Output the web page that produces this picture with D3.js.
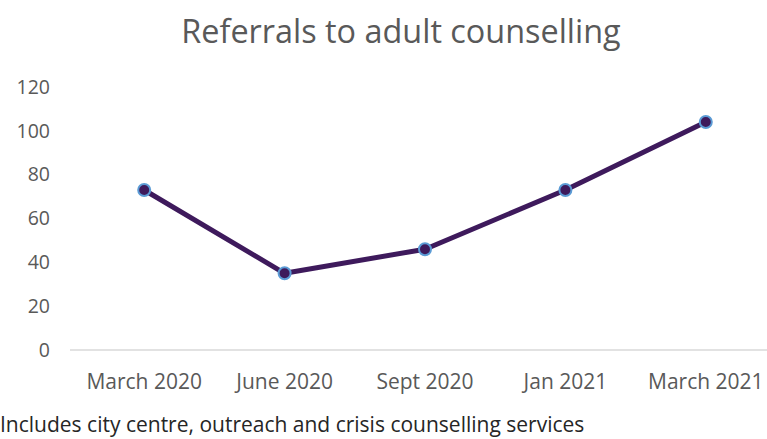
<!DOCTYPE html>
<html>
<head>
<meta charset="utf-8">
<script src="https://cdn.jsdelivr.net/npm/d3@7"></script>
<style>
  body { margin: 0; background: #fff; }
  svg text { font-family: "Open Sans", sans-serif; }
</style>
</head>
<body>
<div id="chart"></div>
<script>
const categories = ["March 2020", "June 2020", "Sept 2020", "Jan 2021", "March 2021"];
const referrals = [73, 35, 46, 73, 104];
const yTicks = [0, 20, 40, 60, 80, 100, 120];
const chartTitle = "Referrals to adult counselling";
const footnote = "Includes city centre, outreach and crisis counselling services";

const width = 767, height = 439;

const svg = d3.select("#chart").append("svg")
    .attr("width", width)
    .attr("height", height);

// Scales
const xScale = d3.scaleBand()
    .domain(categories)
    .range([74, 776]);

const yScale = d3.scaleLinear()
    .domain([0, 120])
    .range([350, 87]);

// Title
svg.append("text")
    .attr("x", 401)
    .attr("y", 43)
    .attr("text-anchor", "middle")
    .style("font-size", "32.4px")
    .attr("fill", "#595959")
    .text(chartTitle);

// Y axis labels (no axis line)
const yAxis = d3.axisLeft(yScale).tickValues(yTicks).tickSize(0).tickPadding(0);
const yG = svg.append("g")
    .attr("transform", "translate(50,0)")
    .call(yAxis)
    .attr("font-family", null)
    .attr("font-size", null);
yG.select(".domain").remove();
yG.selectAll("text")
    .style("font-size", "19.5px")
    .attr("fill", "#595959");

// X axis line + labels
svg.append("line")
    .attr("x1", 70)
    .attr("x2", width)
    .attr("y1", yScale(0))
    .attr("y2", yScale(0))
    .attr("stroke", "#d9d9d9")
    .attr("stroke-width", 1.5);

const xAxis = d3.axisBottom(xScale).tickSize(0).tickPadding(0);
const xG = svg.append("g")
    .attr("transform", `translate(0,${yScale(0) + 39})`)
    .call(xAxis)
    .attr("font-family", null)
    .attr("font-size", null);
xG.select(".domain").remove();
xG.selectAll("text")
    .style("font-size", "21px")
    .attr("fill", "#595959")
    .attr("dy", 0);

// Line
const line = d3.line()
    .x((d, i) => xScale(categories[i]) + xScale.bandwidth() / 2)
    .y(d => yScale(d));

svg.append("path")
    .datum(referrals)
    .attr("d", line)
    .attr("fill", "none")
    .attr("stroke", "#3e1a5c")
    .attr("stroke-width", 5)
    .attr("stroke-linejoin", "round");

// Markers
svg.selectAll("circle.pt")
    .data(referrals)
    .enter().append("circle")
    .attr("class", "pt")
    .attr("cx", (d, i) => xScale(categories[i]) + xScale.bandwidth() / 2)
    .attr("cy", d => yScale(d))
    .attr("r", 6)
    .attr("fill", "#3e1a5c")
    .attr("stroke", "#5b9bd5")
    .attr("stroke-width", 2);

// Footnote
svg.append("text")
    .attr("x", 0)
    .attr("y", 432)
    .style("font-size", "21px")
    .attr("fill", "#262626")
    .text(footnote);
</script>
</body>
</html>
